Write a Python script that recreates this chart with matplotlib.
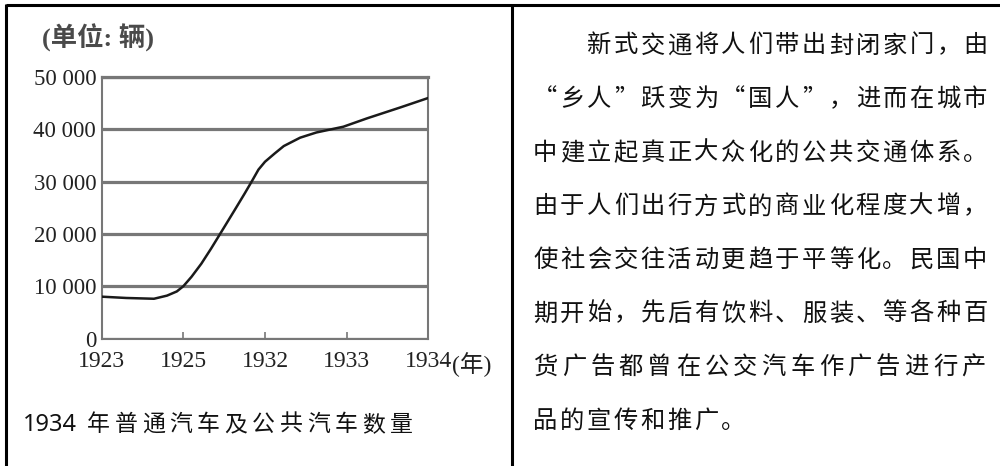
import matplotlib
matplotlib.use('Agg')
import matplotlib.pyplot as plt

# chart data
years = ['1923', '1925', '1932', '1933', '1934']
y_ticks = [0, 10000, 20000, 30000, 40000, 50000]
y_labels = ['0', '10 000', '20 000', '30 000', '40 000', '50 000']

curve_pos = [0.00, 0.30, 0.64, 0.80, 0.92, 1.00, 1.10, 1.22, 1.34, 1.45, 1.63,
             1.75, 1.84, 1.92, 2.00, 2.12, 2.23, 2.43, 2.63, 2.96, 3.25, 3.66, 4.00]
curve_val = [8000, 7750, 7600, 8200, 9000, 10000, 11800, 14300, 17200, 20000, 24600,
             27700, 30100, 32300, 33800, 35400, 36800, 38400, 39400, 40500, 42100, 44200, 46000]

unit_label = '(单位: 辆)'
year_unit = '(年)'
caption_num = '1934'
caption_cjk = '年普通汽车及公共汽车数量'

para_lines = [
    '\u3000\u3000新式交通将人们带出封闭家门，由',
    '“乡人”跃变为“国人”，进而在城市',
    '中建立起真正大众化的公共交通体系。',
    '由于人们出行方式的商业化程度大增，',
    '使社会交往活动更趋于平等化。民国中',
    '期开始，先后有饮料、服装、等各种百',
    '货广告都曾在公交汽车作广告进行产',
    '品的宣传和推广。',
]

cjk = ['Noto Sans CJK SC', 'DejaVu Sans']
serif = ['Liberation Serif', 'Noto Sans CJK SC']
grey = '#777777'

fig = plt.figure(figsize=(10, 4.66), dpi=100)
fig.patch.set_facecolor('white')

# ---- line chart ----
ax = fig.add_axes([0.1017, 0.2736, 0.3266, 0.5611])
ax.plot(curve_pos, curve_val, color='#1a1a1a', lw=1.8, solid_capstyle='round', zorder=3)
ax.set_xlim(0, 4)
ax.set_ylim(0, 50000)
ax.set_xticks(range(len(years)))
ax.set_xticklabels(years, family=serif, fontsize=17, color='#222222')
ax.set_yticks(y_ticks)
ax.set_yticklabels(y_labels, family=serif, fontsize=16.5, color='#222222')
ax.yaxis.grid(True, color=grey, lw=2.3)
ax.tick_params(axis='x', direction='in', length=5, width=1.2, color=grey, pad=9)
ax.tick_params(axis='y', length=0, pad=4)
for side, sp in ax.spines.items():
    sp.set_color(grey)
    sp.set_linewidth(2.3 if side == 'top' else 1.5)

# ---- overlay in pixel coordinates for texts and frame ----
ov = fig.add_axes([0, 0, 1, 1], facecolor='none')
ov.set_xlim(0, 1000)
ov.set_ylim(466, 0)
ov.axis('off')

# frame lines
ov.plot([6, 1000], [5.3, 5.3], color='black', lw=2.2, solid_capstyle='butt')
ov.plot([6, 6], [4.2, 466], color='black', lw=2.2, solid_capstyle='butt')
ov.plot([512, 512], [5.3, 466], color='black', lw=2.2, solid_capstyle='butt')

ov.text(42, 47, unit_label, family=serif, fontsize=19, fontweight='bold',
        color='#4a4a4a', ha='left', va='baseline')
ov.text(452, 372, year_unit, family=serif, fontsize=17, color='#222222',
        ha='left', va='baseline')

# caption
ov.text(23, 431, caption_num, family=['Noto Sans', 'DejaVu Sans'], fontsize=17,
        color='#111111', ha='left', va='baseline')
for i, ch in enumerate(caption_cjk):
    ov.text(87 + i * 27.5, 431, ch, family=cjk, fontsize=16.5, color='#111111',
            ha='left', va='baseline')

# paragraph on the right, justified on a character grid
left, right, pitch = 532, 989, 26.8
for k, line in enumerate(para_lines):
    n = len(line)
    base = 43 + 53.6 * k + 9.5
    step = (right - left) / n if k < len(para_lines) - 1 else pitch
    for i, ch in enumerate(line):
        if ch == '\u3000':
            continue
        ov.text(left + i * step + 1, base, ch, family=cjk, fontsize=17.5,
                color='#111111', ha='left', va='baseline')

fig.savefig('out.png', dpi=100)
